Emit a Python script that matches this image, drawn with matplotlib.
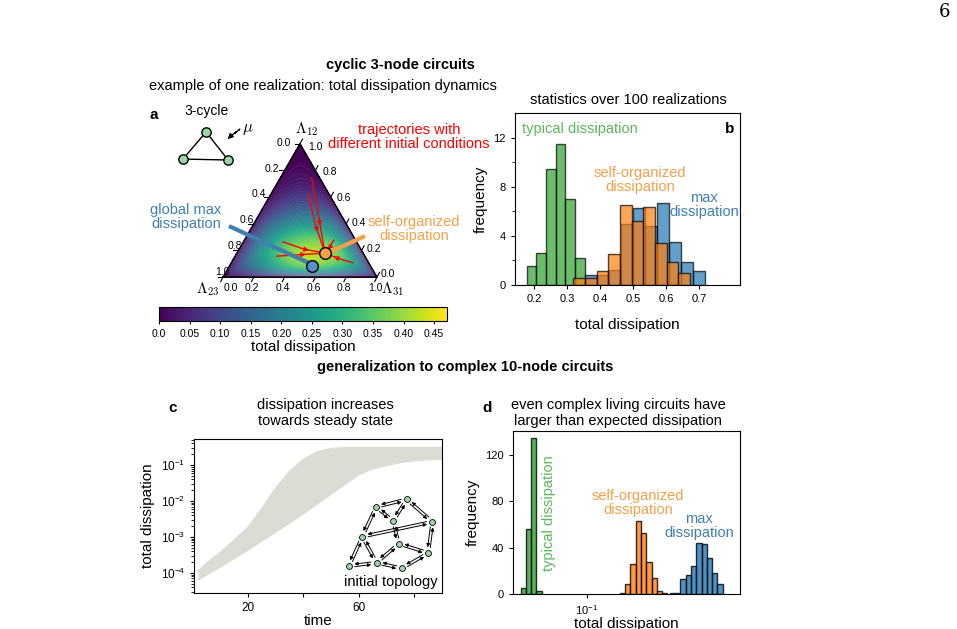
import numpy as np
import matplotlib
matplotlib.use("Agg")
import matplotlib.pyplot as plt

plt.rcParams['font.family'] = ['Liberation Sans', 'DejaVu Sans']

W, H = 957, 629

# ==== panel b: 3-node histograms (left edge, bin width, heights) ====
b_green_start, b_green_w = 0.176, 0.0295
b_green_h = [1.56, 2.6, 9.5, 11.5, 7.0, 2.24]
b_orange_start, b_orange_w = 0.318, 0.0353
b_orange_h = [0.6, 0.6, 1.15, 2.5, 6.5, 5.2, 6.35, 3.4, 1.9, 1.0]
b_blue_start, b_blue_w = 0.354, 0.0363
b_blue_h = [0.8, 0.8, 1.2, 5.0, 6.3, 4.8, 6.7, 3.5, 1.9, 1.15]

# ==== panel c: envelope of the dissipation trajectories ====
c_time = [2, 5, 10, 15, 20, 25, 30, 35, 40, 45, 50, 55, 60, 65, 70, 75, 80, 85, 90]
c_upper = [1.1e-4, 1.8e-4, 3.6e-4, 8e-4, 1.8e-3, 6e-3, 2.2e-2, 6.5e-2, 0.14, 0.23, 0.28, 0.30,
           0.30, 0.30, 0.30, 0.30, 0.30, 0.30, 0.30]
c_lower = [6.5e-5, 9e-5, 1.5e-4, 2.6e-4, 4.4e-4, 8e-4, 1.4e-3, 2.5e-3, 4.6e-3, 8.5e-3, 1.6e-2,
           3e-2, 5.6e-2, 8e-2, 0.10, 0.12, 0.135, 0.145, 0.15]

# ==== panel d: 10-node histograms (log10 left edge, log bin width, heights) ====
d_logw = 0.031
d_green_start = -1.39
d_green_h = [5, 56, 135, 3]
d_orange_start = -0.806
d_orange_h = [1, 9, 26, 63, 53, 28, 14, 3, 1]
d_blue_start = -0.512
d_blue_h = [1, 1, 13, 16, 24, 44, 43, 31, 18, 9]

# ==== panel a: trajectories in triangle coordinates ====
traj = [
    [(0.576, 0.641), (0.62, 0.40), (0.662, 0.156)],
    [(0.554, 0.532), (0.60, 0.34), (0.662, 0.156)],
    [(0.388, 0.229), (0.53, 0.18), (0.662, 0.156)],
    [(0.349, 0.136), (0.50, 0.145), (0.662, 0.156)],
    [(0.844, 0.093), (0.75, 0.12), (0.662, 0.156)],
    [(0.72, 0.24), (0.69, 0.19), (0.662, 0.156)],
]
self_org = (0.662, 0.156)
global_max = (0.578, 0.071)

GREEN, ORANGE, BLUE = '#5cb85c', '#f5a04a', '#3f7fb0'


def box(l, t, r, b):
    return [l / W, 1 - b / H, (r - l) / W, (b - t) / H]


def ftext(x, y, s, **kw):
    fig.text(x / W, 1 - y / H, s, **kw)


fig = plt.figure(figsize=(W / 100, H / 100), dpi=100)

ftext(944, 12, "6", fontsize=13, ha='center', va='center', family='DejaVu Serif')
ftext(400, 65, "cyclic 3-node circuits", fontsize=10.5, weight='bold', ha='center', va='center')
ftext(323, 86, "example of one realization: total dissipation dynamics", fontsize=10.5, ha='center', va='center')
ftext(465, 367, "generalization to complex 10-node circuits", fontsize=10.5, weight='bold', ha='center', va='center')

# ---------------- panel a ----------------
S = 154.0  # pixels per triangle unit
axa = fig.add_axes(box(130, 95, 500, 300))
axa.set_xlim(-0.604, 1.799)
axa.set_ylim(-0.149, 1.182)
axa.axis('off')
h3 = np.sqrt(3) / 2
xx, yy = np.meshgrid(np.linspace(0, 1, 300), np.linspace(0, h3, 300))
l12 = yy / h3
l31 = xx - yy / np.sqrt(3)
l23 = 1 - l12 - l31
inside = (l12 >= 0) & (l31 >= 0) & (l23 >= 0)
edge = np.minimum(np.minimum(l12, l31), l23)
D = 0.475 * np.exp(-((xx - 0.58) / 0.45) ** 2 - ((yy - 0.07) / 0.34) ** 2) * (1 - np.exp(-np.clip(edge, 0, None) / 0.06))
D = np.where(inside, D, np.nan)
axa.contourf(xx, yy, D, levels=np.linspace(0, 0.475, 80), cmap='viridis', vmin=0, vmax=0.475)
axa.contour(xx, yy, D, levels=np.linspace(0, 0.475, 60), colors='white', linewidths=0.3, alpha=0.15)
axa.plot([0, 1, 0.5, 0], [0, 0, h3, 0], color='k', lw=1.0)
tk = np.round(np.arange(0, 1.01, 0.2), 1)
for v in tk:
    # bottom edge
    axa.plot([v, v - 0.015], [0, -0.03], color='k', lw=0.8)
    off = 8 if v == 0 else -2
    axa.text(v + off / S, -11 / S, f"{v:.1f}", fontsize=7.5, ha='center', va='center')
    # left edge: 0 at apex, 1 at bottom-left
    px_, py_ = 0.5 - 0.5 * v, h3 * (1 - v)
    axa.plot([px_, px_ - 0.035], [py_, py_], color='k', lw=0.8)
    axa.text(px_ + (-16 + 15 * v) / S, py_ + (1 + 4 * v) / S, f"{v:.1f}", fontsize=7.5, ha='center', va='center')
    # right edge: 1 at apex, 0 at bottom-right
    qx, qy = 0.5 + 0.5 * (1 - v), h3 * v
    axa.plot([qx, qx + 0.017], [qy, qy + 0.03], color='k', lw=0.8)
    axa.text(qx + (11 + 4 * v) / S, qy + (3 - 6 * v) / S, f"{v:.1f}", fontsize=7.5, ha='center', va='center')
axa.text(0.5 + 7 / S, h3 + 14 / S, r"$\Lambda_{12}$", fontsize=11, ha='center', va='center', math_fontfamily='cm')
axa.text(-15 / S, -12 / S, r"$\Lambda_{23}$", fontsize=11, ha='center', va='center', math_fontfamily='cm')
axa.text(1 + 16 / S, -12 / S, r"$\Lambda_{31}$", fontsize=11, ha='center', va='center', math_fontfamily='cm')
for tr in traj:
    t = np.array(tr)
    axa.plot(t[:, 0], t[:, 1], color='red', lw=1.0)
    axa.annotate("", xy=t[1] + 0.35 * (t[2] - t[1]), xytext=t[1],
                 arrowprops=dict(arrowstyle='-|>', color='red', lw=0.8, mutation_scale=7))
axa.plot([0.039, 0.56], [0.331, 0.09], color=BLUE, lw=3, solid_capstyle='butt')
axa.plot([0.922, 0.695], [0.266, 0.162], color=ORANGE, lw=3, solid_capstyle='butt')
axa.scatter(*global_max, s=70, color='#5b8fc9', edgecolor='k', zorder=5)
axa.scatter(*self_org, s=70, color=ORANGE, edgecolor='k', zorder=5)
axa.text((409 - 223) / S, (277 - 137) / S, "trajectories with\ndifferent initial conditions", color='red', fontsize=10.5, ha='center', va='center', linespacing=1.0)
axa.text((186 - 223) / S, (277 - 217) / S, "global max\ndissipation", color=BLUE, fontsize=10.5, ha='center', va='center', linespacing=1.0)
axa.text((414 - 223) / S, (277 - 229) / S, "self-organized\ndissipation", color=ORANGE, fontsize=10.5, ha='center', va='center', linespacing=1.0)
axa.text(-0.448, 1.052, "a", fontsize=11, weight='bold', ha='center', va='center')
axa.text(-0.11, 1.078, "3-cycle", fontsize=10, ha='center', va='center')
nodes = np.array([(-0.11, 0.942), (-0.26, 0.766), (0.033, 0.76)])
for i, j in [(0, 1), (1, 2), (2, 0)]:
    axa.plot(nodes[[i, j], 0], nodes[[i, j], 1], color='k', lw=1.0, zorder=3)
axa.scatter(nodes[:, 0], nodes[:, 1], s=45, color='#9ad6a8', edgecolor='k', zorder=4)
sq = np.linspace(0, 1, 40)
axa.plot(0.105 - 0.05 * sq + 0.01 * np.sin(sq * 4 * np.pi), 0.955 - 0.035 * sq + 0.01 * np.sin(sq * 4 * np.pi), color='k', lw=0.9)
axa.annotate("", xy=(0.03, 0.895), xytext=(0.055, 0.92), arrowprops=dict(arrowstyle='-|>', color='k', lw=0.9, mutation_scale=8))
axa.text(0.16, 0.96, r"$\mu$", fontsize=12, ha='center', va='center', math_fontfamily='cm')

# colorbar
axcb = fig.add_axes(box(159, 307, 447, 321))
cb = fig.colorbar(matplotlib.cm.ScalarMappable(norm=matplotlib.colors.Normalize(0, 0.471), cmap='viridis'),
                  cax=axcb, orientation='horizontal')
cb.set_ticks(np.round(np.arange(0, 0.46, 0.05), 2))
cb.set_ticklabels(["0.0"] + [f"{v:.2f}" for v in np.arange(0.05, 0.46, 0.05)])
axcb.tick_params(labelsize=7.5, length=2)
cb.set_label("total dissipation", fontsize=11, labelpad=1)

# ---------------- panel b ----------------
axb = fig.add_axes(box(515, 113, 740, 285))
for start, w, hs, col in [(b_green_start, b_green_w, b_green_h, 'tab:green'),
                          (b_blue_start, b_blue_w, b_blue_h, 'tab:blue'),
                          (b_orange_start, b_orange_w, b_orange_h, 'tab:orange')]:
    lefts = start + w * np.arange(len(hs))
    axb.bar(lefts, hs, width=w, align='edge', color=col, alpha=0.7, edgecolor='k', lw=1.0)
axb.set_xlim(0.141, 0.823)
axb.set_ylim(0, 14.04)
axb.set_xticks([0.2, 0.3, 0.4, 0.5, 0.6, 0.7])
axb.set_yticks([0, 4, 8, 12])
axb.set_yticks([2, 6, 10], minor=True)
axb.tick_params(labelsize=8, length=3)
axb.set_xlabel("total dissipation", fontsize=11, labelpad=10)
axb.set_ylabel("frequency", fontsize=11)
ftext(628, 100, "statistics over 100 realizations", fontsize=10.5, ha='center', va='center')
ftext(580, 129, "typical dissipation", color=GREEN, fontsize=10.5, ha='center', va='center')
ftext(640, 180, "self-organized\ndissipation", color=ORANGE, fontsize=10.5, ha='center', va='center', linespacing=1.0)
ftext(739, 205, "max\ndissipation", color=BLUE, fontsize=10.5, ha='right', va='center', linespacing=1.0, multialignment='center')
ftext(730, 129, "b", fontsize=11, weight='bold', ha='center', va='center')

# ---------------- panel c ----------------
axc = fig.add_axes(box(194, 439, 442, 593))
axc.fill_between(c_time, c_lower, c_upper, color='#d9ddd3', lw=0)
axc.plot(c_time, c_upper, color='#d9ddd3', lw=1.5)
axc.plot(c_time, c_lower, color='#d9ddd3', lw=1.5)
axc.set_yscale('log')
axc.set_xlim(0.5, 90)
axc.set_ylim(10 ** -4.56, 0.53)
axc.set_xticks([20, 40, 60, 80])
axc.set_xticklabels(["20", "", "60", ""])
axc.set_yticks([1e-4, 1e-3, 1e-2, 1e-1])
axc.tick_params(labelsize=8.5, length=3)
axc.set_xlabel("time", fontsize=11, labelpad=0)
axc.set_ylabel("total dissipation", fontsize=11)
ftext(173, 408, "c", fontsize=11, weight='bold', ha='center', va='center')
ftext(325, 413, "dissipation increases\ntowards steady state", fontsize=10.5, ha='center', va='center', linespacing=1.1)

# ---------------- panel d ----------------
axd = fig.add_axes(box(513, 431, 740, 594))
for start, hs, col in [(d_green_start, d_green_h, 'tab:green'),
                       (d_orange_start, d_orange_h, 'tab:orange'),
                       (d_blue_start, d_blue_h, 'tab:blue')]:
    le = start + d_logw * np.arange(len(hs))
    axd.bar(10 ** le, hs, width=10 ** (le + d_logw) - 10 ** le, align='edge', color=col, alpha=0.8, edgecolor='k', lw=1.0)
axd.set_xscale('log')
axd.set_xlim(10 ** -1.435, 10 ** -0.1)
axd.set_ylim(0, 140.7)
axd.set_xticks([0.1])
axd.xaxis.set_minor_locator(matplotlib.ticker.NullLocator())
axd.set_yticks([0, 40, 80, 120])
axd.tick_params(labelsize=8, length=3)
axd.set_xlabel("total dissipation", fontsize=11, labelpad=0)
axd.set_ylabel("frequency", fontsize=11)
ftext(487, 408, "d", fontsize=11, weight='bold', ha='center', va='center')
ftext(618, 413, "even complex living circuits have\nlarger than expected dissipation", fontsize=10.5, ha='center', va='center', linespacing=1.1)
ftext(549, 513, "typical dissipation", color=GREEN, fontsize=10.5, ha='center', va='center', rotation=90)
ftext(638, 503, "self-organized\ndissipation", color=ORANGE, fontsize=10.5, ha='center', va='center', linespacing=1.0)
ftext(699, 526, "max\ndissipation", color=BLUE, fontsize=10.5, ha='center', va='center', linespacing=1.0)

# ---------------- inset network (overlay in pixel coords) ----------------
ov = fig.add_axes([0, 0, 1, 1], zorder=10)
ov.set_xlim(0, W)
ov.set_ylim(H, 0)
ov.axis('off')
net_x = [376, 406.7, 393.3, 432.3, 362.3, 398.7, 428.3, 376.7, 349, 402]
net_y = [507, 499.3, 521, 521.7, 536.7, 543.7, 553, 562.7, 566, 568.3]
net_edges = [(0, 1), (0, 2), (1, 2), (1, 3), (0, 4), (2, 5), (3, 6), (4, 3), (4, 8),
             (4, 7), (5, 7), (5, 6), (7, 8), (7, 9), (9, 6)]
for i, j in net_edges:
    dx, dy = net_x[j] - net_x[i], net_y[j] - net_y[i]
    n = np.hypot(dx, dy)
    ox, oy = -dy / n * 1.3, dx / n * 1.3
    ov.annotate("", xy=(net_x[j] + ox, net_y[j] + oy), xytext=(net_x[i] + ox, net_y[i] + oy),
                arrowprops=dict(arrowstyle='-|>', lw=0.7, color='k', mutation_scale=5, shrinkA=4, shrinkB=4))
    ov.annotate("", xy=(net_x[i] - ox, net_y[i] - oy), xytext=(net_x[j] - ox, net_y[j] - oy),
                arrowprops=dict(arrowstyle='-|>', lw=0.7, color='k', mutation_scale=5, shrinkA=4, shrinkB=4))
ov.scatter(net_x, net_y, s=18, color='#9ad6a8', edgecolor='k', lw=0.6, zorder=12)
ov.text(391, 582, "initial topology", fontsize=10.5, ha='center', va='center')

fig.savefig("out.png", dpi=100)
